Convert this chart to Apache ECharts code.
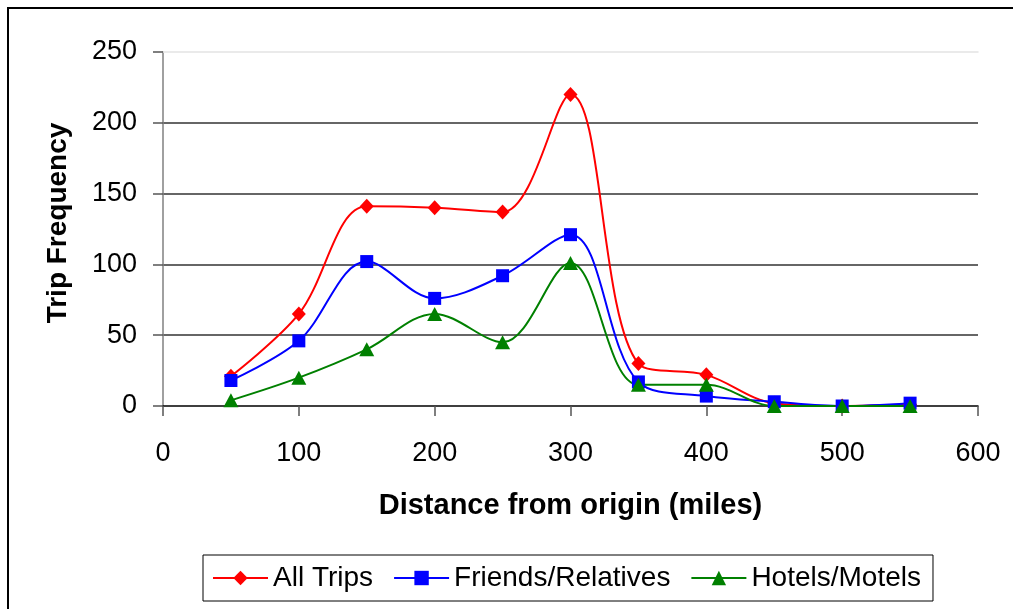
<!DOCTYPE html>
<html>
<head>
<meta charset="utf-8">
<script src="https://cdn.jsdelivr.net/npm/echarts@6/dist/echarts.min.js"></script>
<style>
html,body{margin:0;padding:0;background:#fff;}
#chart{width:1013px;height:609px;}
</style>
</head>
<body>
<div id="chart"></div>
<script>
var distances = [50, 100, 150, 200, 250, 300, 350, 400, 450, 500, 550];
var allTrips = [21, 65, 141, 140, 137, 220, 30, 22, 2, 0, 1];
var friendsRelatives = [18, 46, 102, 76, 92, 121, 17, 7, 3, 0, 2];
var hotelsMotels = [4, 20, 40, 65, 45, 101, 15, 15, 0, 0, 0];
var seriesNames = ['All Trips', 'Friends/Relatives', 'Hotels/Motels'];

function pairs(vals) {
  return distances.map(function (d, i) { return [d, vals[i]]; });
}

var FONT = '"Liberation Sans", Arial, sans-serif';
var chart = echarts.init(document.getElementById('chart'), null, {renderer: 'canvas'});
var smoothVal = 0.35;

chart.setOption({
  animation: false,
  backgroundColor: '#fff',
  textStyle: {fontFamily: FONT},
  graphic: [{
    type: 'rect',
    shape: {x: 8, y: 8, width: 1100, height: 700},
    style: {fill: 'none', stroke: '#000', lineWidth: 2},
    silent: true
  }],
  grid: {left: 163, right: 35, top: 52, bottom: 203},
  legend: {
    left: 203, top: 555,
    padding: [9, 12, 9, 9],
    itemGap: 20,
    itemWidth: 55, itemHeight: 18,
    borderColor: '#000', borderWidth: 1,
    textStyle: {fontFamily: FONT, fontSize: 28, color: '#000'},
    data: seriesNames
  },
  xAxis: [{
    type: 'value', min: 0, max: 600, interval: 100,
    name: 'Distance from origin (miles)',
    nameLocation: 'middle', nameGap: 85,
    nameTextStyle: {fontFamily: FONT, fontSize: 29, fontWeight: 'bold', color: '#000'},
    axisLine: {show: true, onZero: false, lineStyle: {color: '#000', width: 1.5}},
    axisTick: {show: true, length: 10, lineStyle: {color: '#555', width: 1.5}},
    axisLabel: {fontFamily: FONT, fontSize: 27, color: '#000', margin: 34},
    splitLine: {show: false}
  }, {
    type: 'value', min: 0, max: 600, position: 'top',
    axisLine: {show: true, onZero: false, lineStyle: {color: '#e4e4e4', width: 1.5}},
    axisTick: {show: false}, axisLabel: {show: false}, splitLine: {show: false}
  }],
  yAxis: {
    type: 'value', min: 0, max: 250, interval: 50,
    name: 'Trip Frequency',
    nameLocation: 'middle', nameGap: 91,
    nameTextStyle: {fontFamily: FONT, fontSize: 28, fontWeight: 'bold', color: '#000', padding: [0, 0, 0, 12]},
    axisLine: {show: true, lineStyle: {color: '#808080', width: 1.5}},
    axisTick: {show: true, length: 10, lineStyle: {color: '#555', width: 1.5}},
    axisLabel: {fontFamily: FONT, fontSize: 27, color: '#000', margin: 26},
    splitLine: {show: true, showMinLine: false, showMaxLine: false, lineStyle: {color: '#333', width: 1.5}}
  },
  series: [{
    name: seriesNames[0], type: 'line', data: pairs(allTrips),
    smooth: smoothVal, symbol: 'diamond', symbolSize: [14, 15],
    lineStyle: {color: '#ff0000', width: 2}, itemStyle: {color: '#ff0000'}
  }, {
    name: seriesNames[1], type: 'line', data: pairs(friendsRelatives),
    smooth: smoothVal, symbol: 'rect', symbolSize: 13,
    lineStyle: {color: '#0000ff', width: 2}, itemStyle: {color: '#0000ff'}
  }, {
    name: seriesNames[2], type: 'line', data: pairs(hotelsMotels),
    smooth: smoothVal, symbol: 'triangle', symbolSize: [15, 14],
    lineStyle: {color: '#008000', width: 2}, itemStyle: {color: '#008000'}
  }]
});
</script>
</body>
</html>
